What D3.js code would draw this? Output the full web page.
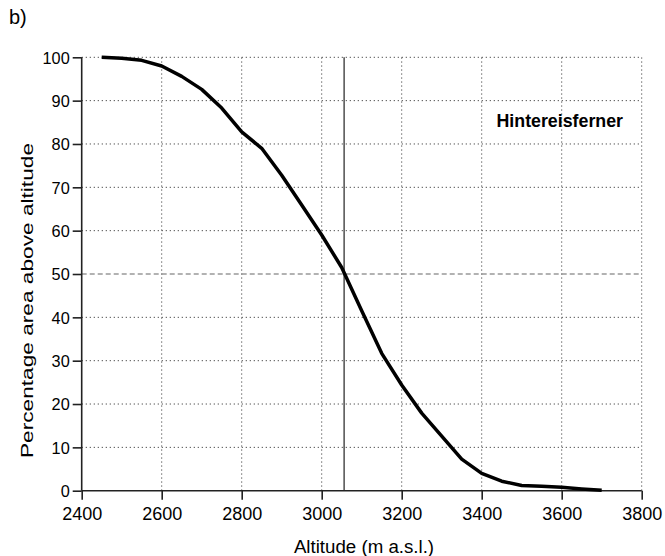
<!DOCTYPE html>
<html>
<head>
<meta charset="utf-8">
<script src="https://cdn.jsdelivr.net/npm/d3@7"></script>
<style>
  body { margin: 0; background: #fff; }
  svg text { font-family: "Liberation Sans", Arial, sans-serif; fill: #000; }
</style>
</head>
<body>
<div id="chart"></div>
<script>
// hypsometry data: altitude (m a.s.l.) and percentage of area above it
var altitudes = [2450, 2500, 2550, 2600, 2650, 2700, 2750, 2800, 2850, 2900,
                 2950, 3000, 3050, 3100, 3150, 3200, 3250, 3300, 3350, 3400,
                 3450, 3500, 3550, 3600, 3650, 3700];
var percent   = [100, 99.8, 99.3, 98.0, 95.6, 92.6, 88.3, 82.8, 79.0, 72.8,
                 65.9, 59.0, 51.5, 41.5, 31.7, 24.4, 17.9, 12.6, 7.3, 4.0,
                 2.2, 1.2, 1.0, 0.8, 0.4, 0.1];
var xTicks = [2400, 2600, 2800, 3000, 3200, 3400, 3600, 3800];
var yTicks = [0, 10, 20, 30, 40, 50, 60, 70, 80, 90, 100];
var medianAltitude = 3056;
var halfLine = 50;

var W = 665, H = 556;
var margin = {top: 57.3, right: 23.3, bottom: 65.3, left: 81.7};

var svg = d3.select("#chart").append("svg")
  .attr("width", W)
  .attr("height", H);

var x = d3.scaleLinear().domain([2400, 3800]).range([margin.left, W - margin.right]);
var y = d3.scaleLinear().domain([0, 100]).range([H - margin.bottom, margin.top]);

// grid
svg.append("g").selectAll("line.gx")
  .data(xTicks.slice(1))
  .enter().append("line")
  .attr("x1", d => x(d)).attr("x2", d => x(d))
  .attr("y1", y(0)).attr("y2", y(100))
  .attr("stroke", "#555").attr("stroke-width", 1)
  .attr("stroke-dasharray", "1.3,2.7");

svg.append("g").selectAll("line.gy")
  .data(yTicks.filter(d => d > 0 && d != halfLine))
  .enter().append("line")
  .attr("x1", x(2400)).attr("x2", x(3800))
  .attr("y1", d => y(d)).attr("y2", d => y(d))
  .attr("stroke", "#555").attr("stroke-width", 1)
  .attr("stroke-dasharray", "1.3,2.7");

// 50% dashed line
svg.append("line")
  .attr("x1", x(2400)).attr("x2", x(3800))
  .attr("y1", y(halfLine)).attr("y2", y(halfLine))
  .attr("stroke", "#666").attr("stroke-width", 1.2)
  .attr("stroke-dasharray", "5,3");

// median altitude vertical line
svg.append("line")
  .attr("x1", x(medianAltitude)).attr("x2", x(medianAltitude))
  .attr("y1", y(0)).attr("y2", y(100))
  .attr("stroke", "#222").attr("stroke-width", 1.2);

// axes
var xAxis = d3.axisBottom(x).tickValues(xTicks).tickSize(9).tickPadding(8).tickFormat(d3.format("d"));
var yAxis = d3.axisLeft(y).tickValues(yTicks).tickSize(9).tickPadding(3).tickFormat(d3.format("d"));

var gx = svg.append("g").attr("transform", "translate(0," + y(0) + ")").call(xAxis);
var gy = svg.append("g").attr("transform", "translate(" + x(2400) + ",0)").call(yAxis);

[gx, gy].forEach(function(g){
  g.select(".domain").attr("stroke", "#222").attr("stroke-width", 1.6);
  g.selectAll(".tick line").attr("stroke", "#222").attr("stroke-width", 1.6);
});
gx.select(".domain").attr("d", "M" + x(2400) + ",0H" + x(3800));
gy.select(".domain").attr("d", "M0," + y(100) + "V" + y(0));
gx.selectAll(".tick text").style("font-size", "18px").attr("fill", "#000")
  .style("font-family", "'Liberation Sans', Arial, sans-serif");
gy.selectAll(".tick text").style("font-size", "16.3px").attr("fill", "#000").attr("dy", "0.36em")
  .style("font-family", "'Liberation Sans', Arial, sans-serif");

// curve
var line = d3.line()
  .x((d, i) => x(altitudes[i]))
  .y(d => y(d));

svg.append("path")
  .datum(percent)
  .attr("d", line)
  .attr("fill", "none")
  .attr("stroke", "#000")
  .attr("stroke-width", 3.5)
  .attr("stroke-linejoin", "round");

// labels
svg.append("text")
  .attr("x", 9).attr("y", 24)
  .style("font-size", "20px")
  .text("b)");

svg.append("text")
  .attr("x", 496.5).attr("y", 126.5)
  .style("font-size", "17.8px").style("font-weight", "bold")
  .text("Hintereisferner");

svg.append("text")
  .attr("x", 364).attr("y", 553)
  .attr("text-anchor", "middle")
  .style("font-size", "18.7px")
  .text("Altitude (m a.s.l.)");

svg.append("text")
  .attr("transform", "translate(33,300.5) rotate(-90)")
  .attr("text-anchor", "middle")
  .attr("textLength", 315)
  .attr("lengthAdjust", "spacingAndGlyphs")
  .style("font-size", "17px")
  .text("Percentage area above altitude");
</script>
</body>
</html>
